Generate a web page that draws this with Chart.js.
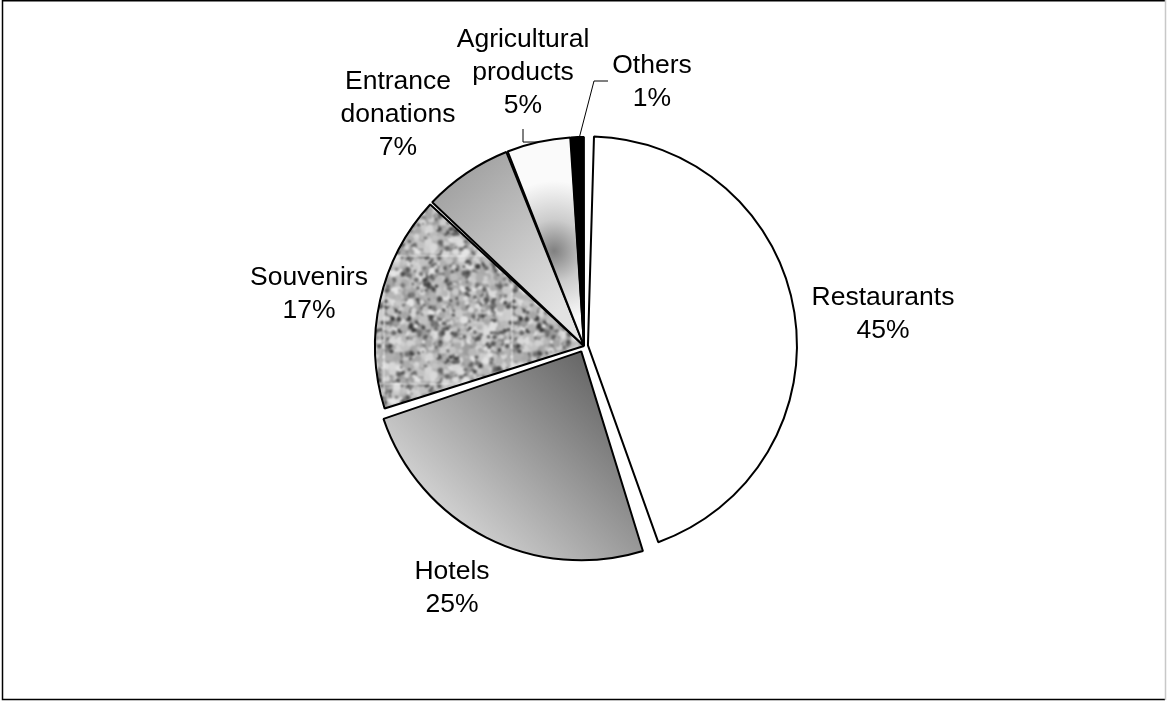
<!DOCTYPE html>
<html>
<head>
<meta charset="utf-8">
<title>Spending by category</title>
<script src="https://cdn.jsdelivr.net/npm/chart.js@4.4.1/dist/chart.umd.min.js"></script>
<style>
  html, body { margin: 0; padding: 0; background: #fff; }
  #wrap { width: 1167px; height: 702px; }
</style>
</head>
<body>
<div id="wrap"><canvas id="pie" width="1167" height="702"></canvas></div>
<script>
const categories = ['Restaurants', 'Hotels', 'Souvenirs', 'Entrance donations', 'Agricultural products', 'Others'];
const shares = [45, 25, 17, 7, 5, 1];
const labelLines = [['Restaurants'], ['Hotels'], ['Souvenirs'], ['Entrance', 'donations'], ['Agricultural', 'products'], ['Others']];

// how far each slice is pulled out (px)
const pullOut = [4, 6, 0, 0, 0, 0];
// label anchor (centre x, first baseline) relative to pie centre
const labelSpots = [[299, -41], [-132, 233], [-275, -61], [-186, -257], [-61, -299], [68, -273]];
const lineGap = 33;
const pieRadius = 209;
const sliceGap = 4;
const labelFont = '26.5px "Liberation Sans", Arial, sans-serif';

// grey granite tile for the souvenirs slice
function graniteTile() {
  const n = 128;
  const raw = document.createElement('canvas');
  raw.width = raw.height = n;
  const g = raw.getContext('2d');
  g.fillStyle = '#9c9c9c';
  g.fillRect(0, 0, n, n);
  let seed = 12345;
  const next = () => (seed = (seed * 16807) % 2147483647) / 2147483647;
  for (let i = 0; i < 1500; i++) {
    const light = next() < 0.55;
    const v = light ? Math.floor(165 + next() * 65) : Math.floor(55 + next() * 65);
    const x = next() * n, y = next() * n, s = light ? 1.8 + next() * 2.6 : 1 + next() * 1.8;
    g.fillStyle = `rgb(${v},${v},${v})`;
    for (const dx of [-n, 0, n]) for (const dy of [-n, 0, n]) {
      g.beginPath();
      g.arc(x + dx, y + dy, s, 0, Math.PI * 2);
      g.fill();
    }
  }
  // soften, wrapping so the tile stays seamless
  const big = document.createElement('canvas');
  big.width = big.height = n * 3;
  const b = big.getContext('2d');
  b.filter = 'blur(0.8px)';
  for (let i = 0; i < 3; i++) for (let j = 0; j < 3; j++) b.drawImage(raw, i * n, j * n);
  const tile = document.createElement('canvas');
  tile.width = tile.height = n;
  tile.getContext('2d').drawImage(big, n, n, n, n, 0, 0, n, n);
  return tile;
}
const granite = graniteTile();

function sliceFill(c) {
  const chart = c.chart;
  const area = chart.chartArea;
  if (!area) return '#ffffff';
  const cx = (area.left + area.right) / 2;
  const cy = (area.top + area.bottom) / 2;
  const g = chart.ctx;
  let grad;
  switch (c.dataIndex) {
    case 0:
      return '#ffffff';
    case 1:
      grad = g.createLinearGradient(cx + 60, cy - 20, cx - 180, cy + 220);
      grad.addColorStop(0, '#4a4a4a');
      grad.addColorStop(1, '#f4f4f4');
      return grad;
    case 2:
      return g.createPattern(granite, 'repeat');
    case 3:
      grad = g.createLinearGradient(cx - 150, cy - 190, cx - 20, cy - 40);
      grad.addColorStop(0, '#979797');
      grad.addColorStop(1, '#e2e2e2');
      return grad;
    case 4:
      grad = g.createRadialGradient(cx - 30, cy - 95, 0, cx - 30, cy - 95, 70);
      grad.addColorStop(0, '#808080');
      grad.addColorStop(0.45, '#cccccc');
      grad.addColorStop(1, '#fafafa');
      return grad;
    default:
      return '#000000';
  }
}

const framePlugin = {
  id: 'frame',
  beforeDraw(chart) {
    const g = chart.ctx;
    g.save();
    g.fillStyle = '#fff';
    g.fillRect(0, 0, chart.width, chart.height);
    g.strokeStyle = '#000';
    g.lineWidth = 1.5;
    g.beginPath();
    g.moveTo(1165, 0.75);
    g.lineTo(2.5, 0.75);
    g.lineTo(2.5, 699.5);
    g.lineTo(1165, 699.5);
    g.stroke();
    g.strokeStyle = '#c8c8c8';
    g.beginPath();
    g.moveTo(1165.5, 0);
    g.lineTo(1165.5, 700);
    g.stroke();
    g.restore();
  }
};

// Chart.js grows a pulled-out arc's radius; take that back so all slices share one radius
const radiusFix = {
  id: 'radiusFix',
  afterDatasetUpdate(chart, args) {
    const meta = chart.getDatasetMeta(args.index);
    meta.data.forEach((arc, i) => {
      const shift = pullOut[i];
      if (!shift) return;
      const grow = shift * (1 - Math.sin(Math.min(Math.PI, arc.circumference)));
      arc.outerRadius -= grow;
    });
  }
};

const labelPlugin = {
  id: 'sliceLabels',
  afterDatasetsDraw(chart) {
    const g = chart.ctx;
    const arcs = chart.getDatasetMeta(0).data;
    const cx = arcs[0].x, cy = arcs[0].y;
    g.save();
    g.font = labelFont;
    g.fillStyle = '#000';
    g.textAlign = 'center';
    g.textBaseline = 'alphabetic';
    arcs.forEach((arc, i) => {
      const lx = cx + labelSpots[i][0];
      const ly = cy + labelSpots[i][1];
      const lines = labelLines[i].concat([shares[i] + '%']);
      lines.forEach((t, k) => g.fillText(t, lx, ly + k * lineGap));

      const mid = (arc.startAngle + arc.endAngle) / 2;
      const edge = [cx + Math.cos(mid) * pieRadius, cy + Math.sin(mid) * pieRadius];
      let path = null;
      if (i === 4) {
        path = [edge, [lx, edge[1]], [lx, ly + (lines.length - 1) * lineGap + 16]];
      } else if (i === 5) {
        path = [[edge[0] + 2, edge[1]], [lx - 58, ly + 8], [lx - 44, ly + 8]];
      }
      if (path) {
        g.strokeStyle = '#000';
        g.lineWidth = 1;
        g.beginPath();
        g.moveTo(path[0][0], path[0][1]);
        path.slice(1).forEach(p => g.lineTo(p[0], p[1]));
        g.stroke();
      }
    });
    g.restore();
  }
};

new Chart(document.getElementById('pie'), {
  type: 'pie',
  data: {
    labels: categories,
    datasets: [{
      data: shares,
      backgroundColor: sliceFill,
      borderColor: '#000',
      borderWidth: 2,
      offset: pullOut.map(v => v * 4),
      spacing: sliceGap
    }]
  },
  options: {
    responsive: false,
    animation: false,
    devicePixelRatio: 1,
    radius: pieRadius - sliceGap / 2,
    layout: { padding: { left: 100, right: 99, top: 80, bottom: 90 } },
    plugins: {
      legend: { display: false },
      tooltip: { enabled: false }
    }
  },
  plugins: [framePlugin, radiusFix, labelPlugin]
});
</script>
</body>
</html>
